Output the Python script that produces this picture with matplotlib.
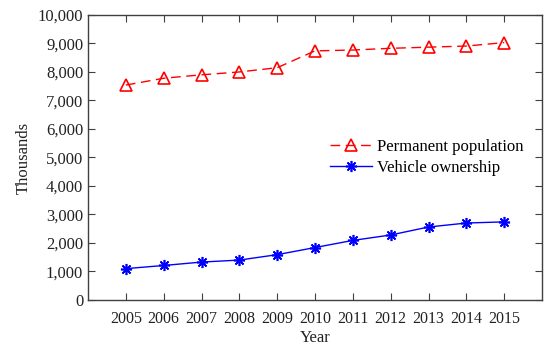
import matplotlib
matplotlib.use("Agg")
import matplotlib.pyplot as plt
from matplotlib.ticker import FuncFormatter

years = [2005, 2006, 2007, 2008, 2009, 2010, 2011, 2012, 2013, 2014, 2015]
population = [7540, 7780, 7900, 8000, 8150, 8740, 8770, 8830, 8870, 8910, 9030]
vehicles = [1100, 1210, 1330, 1400, 1590, 1840, 2090, 2280, 2560, 2700, 2740]

plt.rcParams['font.family'] = ['Liberation Serif', 'DejaVu Serif']
fig = plt.figure(figsize=(5.5, 3.48), dpi=100)
ax = fig.add_axes([0.16, 0.138, 0.8255, 0.819])

ax.plot(years, population, color='#ff0000', linestyle=(0, (7, 4)), linewidth=1.0,
        marker='^', markersize=9, markerfacecolor='none', markeredgecolor='#ff0000',
        markeredgewidth=1.2, label='Permanent population')
ax.plot(years, vehicles, color='#0000ff', linestyle='-', linewidth=1.0,
        marker=(8, 2, 0), markersize=8, markeredgecolor='#0000ff',
        markeredgewidth=1.2, label='Vehicle ownership')

ax.set_xlim(2004, 2016)
ax.set_ylim(0, 10000)
ax.set_xticks(years)
ax.set_yticks(range(0, 10001, 1000))
ax.yaxis.set_major_formatter(FuncFormatter(lambda v, p: f"{int(v):,}"))

for s in ax.spines.values():
    s.set_color('#404040')
    s.set_linewidth(1.0)
ax.tick_params(direction='in', top=True, right=True, length=5, color='#404040',
               labelsize=12, labelcolor='#222222')
ax.tick_params(axis='x', labelsize=11.5, pad=8)

ax.set_xlabel('Year', fontsize=12, color='#222222', labelpad=2)
ax.set_ylabel('Thousands', fontsize=12, color='#222222')

leg = ax.legend(loc='center left', bbox_to_anchor=(0.519, 0.50), frameon=False,
                fontsize=12, handlelength=2.5, handletextpad=0.3,
                borderaxespad=0, labelspacing=0.3)

fig.savefig('out.png', dpi=100)
